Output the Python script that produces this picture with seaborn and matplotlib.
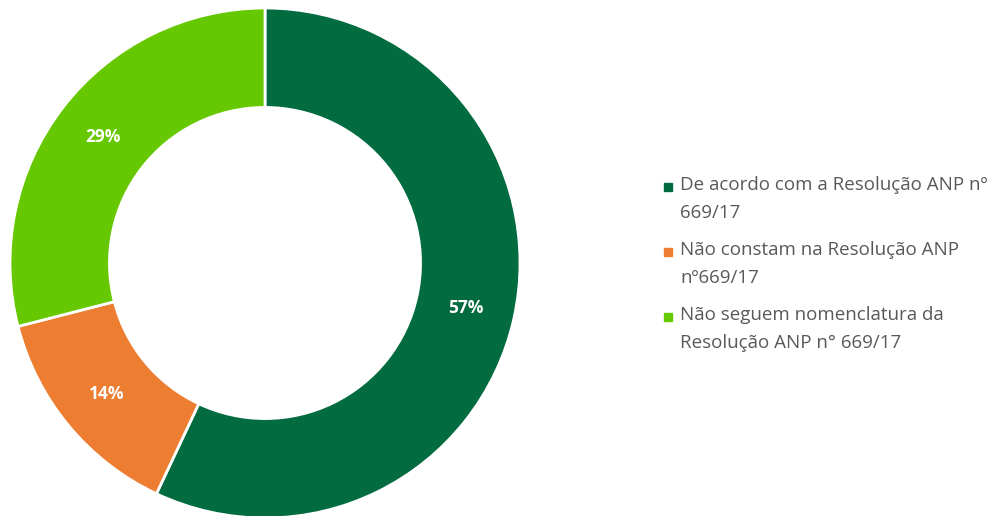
import matplotlib
matplotlib.use("Agg")
import matplotlib.pyplot as plt
from matplotlib.lines import Line2D
import seaborn as sns

categories = [
    "De acordo com a Resolução ANP nº\n669/17",
    "Não constam na Resolução ANP\nnº669/17",
    "Não seguem nomenclatura da\nResolução ANP n° 669/17",
]
shares = [57, 14, 29]
colors = ["#026b3f", "#ed7d31", "#66c800"]

sns.set_theme(style="white")
plt.rcParams["font.family"] = ["Open Sans", "DejaVu Sans"]

W, H = 993, 516
fig = plt.figure(figsize=(W / 100, H / 100), dpi=100)
ax = fig.add_axes([10 / W, -2 / H, 510 / W, 510 / H])

wedges, texts, autotexts = ax.pie(
    shares,
    colors=colors,
    startangle=90,
    counterclock=False,
    radius=1,
    autopct=lambda p: f"{p:.0f}%",
    pctdistance=0.805,
    wedgeprops=dict(width=0.39, edgecolor="white", linewidth=2),
    textprops=dict(color="white", fontsize=12.5, fontweight="bold"),
)
ax.set_xlim(-1, 1)
ax.set_ylim(-1, 1)
ax.set_aspect("equal")
ax.axis("off")

# legend: square key aligned with the first line of each wrapped label
for i, (label, c) in enumerate(zip(categories, colors)):
    y_top = 176 + 65 * i
    fig.add_artist(Line2D([668 / W], [1 - (y_top + 11) / H], marker="s",
                          markersize=5.5, color=c, linestyle="none",
                          transform=fig.transFigure))
    fig.text(680 / W, 1 - y_top / H, label, ha="left", va="top",
             fontsize=13.5, color="#595959", linespacing=1.68)

fig.savefig("out.png", dpi=100, facecolor="white")
